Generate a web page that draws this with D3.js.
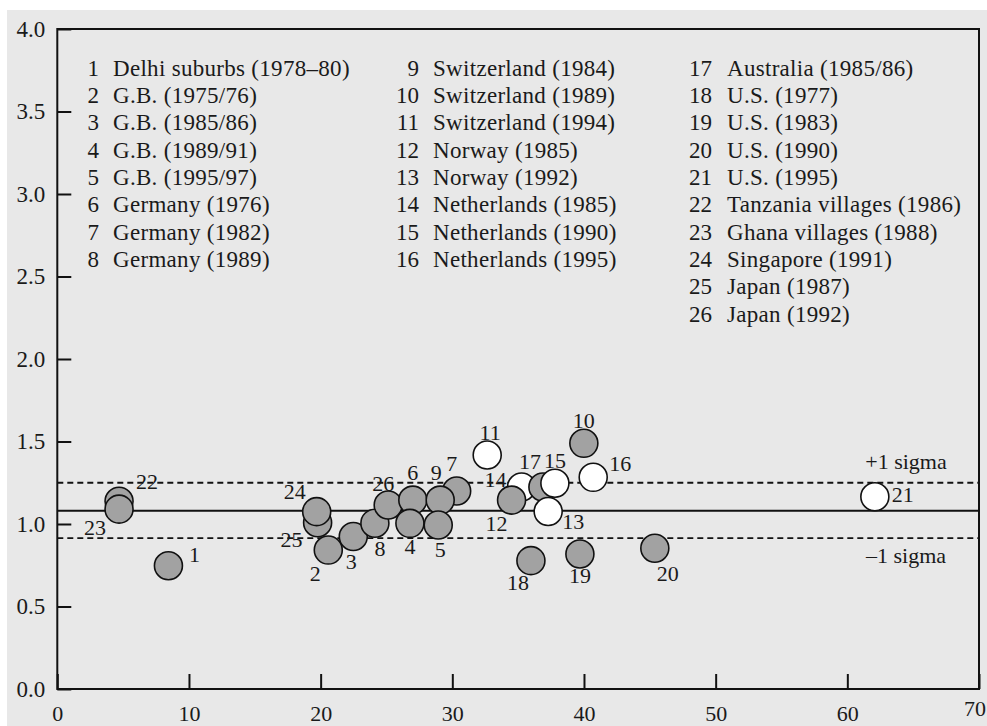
<!DOCTYPE html>
<html>
<head>
<meta charset="utf-8">
<script src="https://cdn.jsdelivr.net/npm/d3@7"></script>
<style>
  body { margin: 0; background: #fff; }
  text { font-family: "Liberation Serif", "DejaVu Serif", serif; fill: #1a1a1a; }
</style>
</head>
<body>
<div class="visContainer"></div>
<script>
// Data.
const ids = [1, 22, 23, 25, 24, 2, 3, 8, 26, 6, 4, 7, 9, 5, 14, 12, 17, 15, 13, 11, 10, 16, 18, 19, 20, 21];
const xValues = [8.44, 4.69, 4.69, 19.77, 19.70, 20.58, 22.48, 24.12, 25.13, 27.0, 26.78, 30.33, 29.08, 28.93,
                 35.26, 34.5, 36.88, 37.79, 37.28, 32.65, 39.99, 40.70, 35.97, 39.69, 45.38, 62.09];
const yValues = [0.747, 1.138, 1.09, 1.008, 1.075, 0.842, 0.924, 1.005, 1.115, 1.145, 1.004, 1.20, 1.145, 0.994,
                 1.224, 1.145, 1.224, 1.247, 1.076, 1.418, 1.489, 1.283, 0.778, 0.818, 0.853, 1.165];
const openIds = [11, 13, 14, 15, 16, 21];

const legendNames = [
    'Delhi suburbs (1978–80)', 'G.B. (1975/76)', 'G.B. (1985/86)', 'G.B. (1989/91)', 'G.B. (1995/97)',
    'Germany (1976)', 'Germany (1982)', 'Germany (1989)',
    'Switzerland (1984)', 'Switzerland (1989)', 'Switzerland (1994)', 'Norway (1985)', 'Norway (1992)',
    'Netherlands (1985)', 'Netherlands (1990)', 'Netherlands (1995)',
    'Australia (1985/86)', 'U.S. (1977)', 'U.S. (1983)', 'U.S. (1990)', 'U.S. (1995)',
    'Tanzania villages (1986)', 'Ghana villages (1988)', 'Singapore (1991)', 'Japan (1987)', 'Japan (1992)'
];
const legendColumnSizes = [8, 8, 10];

const meanValue = 1.08;
const plusSigma = 1.25;
const minusSigma = 0.915;

const xTicks = [0, 10, 20, 30, 40, 50, 60, 70];
const yTicks = [0, 0.5, 1, 1.5, 2, 2.5, 3, 3.5, 4];

// Label offsets from each circle centre (layout only).
const labelOffsets = {
    1: [26, -11], 2: [-13, 23], 3: [-2, 25], 4: [0, 23], 5: [2, 25], 6: [0, -28], 7: [-5, -28],
    8: [5, 25], 9: [-4, -28], 10: [0, -23], 11: [3, -23], 12: [-15, 23], 13: [25, 10], 14: [-26, -8],
    15: [0, -23], 16: [27, -14], 17: [-13, -26], 18: [-13, 22], 19: [0, 21], 20: [13, 25], 21: [28, -2],
    22: [28, -20], 23: [-24, 18], 24: [-22, -20], 25: [-26, 17], 26: [-5, -22]
};

const width = 987;
const height = 726;
const margin = {left: 57.3, right: 8, top: 29, bottom: 37};

const svg = d3.select('.visContainer')
              .append('svg')
              .attr('width', width)
              .attr('height', height);

// Grey page.
svg.append('rect')
   .attr('x', 7)
   .attr('y', 10)
   .attr('width', width - 7)
   .attr('height', height - 10)
   .attr('fill', '#e8e8e8');

const x = d3.scaleLinear().domain([0, 70]).range([margin.left, 979]);
const y = d3.scaleLinear().domain([0, 4]).range([689, margin.top]);

// Axes with inward ticks.
const yAxis = d3.axisLeft(y)
                .tickValues(yTicks)
                .tickFormat(d3.format('.1f'))
                .tickSize(-14)
                .tickPadding(12);
const xAxis = d3.axisBottom(x)
                .tickValues(xTicks)
                .tickFormat(d3.format('d'))
                .tickSize(-15)
                .tickPadding(16);

const gy = svg.append('g')
              .attr('transform', `translate(${x(0)},0)`)
              .call(yAxis);
const gx = svg.append('g')
              .attr('transform', `translate(0,${y(0)})`)
              .call(xAxis);

[gx, gy].forEach(g => {
    g.select('.domain').remove();
    g.selectAll('line').attr('stroke', '#111').attr('stroke-width', 2);
    g.selectAll('text').attr('fill', '#333')
     .attr('font-family', '"Liberation Serif", serif');
});
gy.selectAll('text').attr('font-size', '23px');
gx.selectAll('text').attr('font-size', '22px');
gx.selectAll('.tick')
  .filter(d => d === 70)
  .select('text')
  .attr('dy', '0.5em')
  .attr('dx', '-0.2em');

// Frame.
svg.append('rect')
   .attr('x', x(0))
   .attr('y', y(4))
   .attr('width', x(70) - x(0))
   .attr('height', y(0) - y(4))
   .attr('fill', 'none')
   .attr('stroke', '#111')
   .attr('stroke-width', 2);

// Mean and sigma lines.
svg.append('line')
   .attr('x1', x(0)).attr('x2', x(70))
   .attr('y1', y(meanValue)).attr('y2', y(meanValue))
   .attr('stroke', '#111')
   .attr('stroke-width', 2);

[plusSigma, minusSigma].forEach(v => {
    svg.append('line')
       .attr('x1', x(0)).attr('x2', x(70))
       .attr('y1', y(v)).attr('y2', y(v))
       .attr('stroke', '#111')
       .attr('stroke-width', 1.8)
       .attr('stroke-dasharray', '6,4');
});

svg.append('text')
   .attr('x', 906).attr('y', y(plusSigma) - 14)
   .attr('text-anchor', 'middle')
   .attr('font-size', '22px')
   .text('+1 sigma');
svg.append('text')
   .attr('x', 906).attr('y', y(minusSigma) + 25)
   .attr('text-anchor', 'middle')
   .attr('font-size', '22px')
   .text('–1 sigma');

// Points.
const points = ids.map((id, i) => ({id: id, x: xValues[i], y: yValues[i]}));

svg.append('g')
   .selectAll('circle')
   .data(points)
   .enter()
   .append('circle')
   .attr('cx', d => x(d.x))
   .attr('cy', d => y(d.y))
   .attr('r', 14)
   .attr('fill', d => openIds.includes(d.id) ? '#ffffff' : '#a2a2a2')
   .attr('stroke', '#111')
   .attr('stroke-width', 1.6);

svg.append('g')
   .selectAll('text')
   .data(points)
   .enter()
   .append('text')
   .attr('x', d => x(d.x) + labelOffsets[d.id][0])
   .attr('y', d => y(d.y) + labelOffsets[d.id][1])
   .attr('text-anchor', 'middle')
   .attr('dominant-baseline', 'central')
   .attr('font-size', '22px')
   .text(d => d.id);

// Legend.
const colNumX = [99, 419, 712];
const colTextX = [113, 433, 727];
const rowTop = 68.3;
const rowStep = 27.3;
let start = 0;
legendColumnSizes.forEach((size, c) => {
    const rows = legendNames.slice(start, start + size);
    rows.forEach((name, r) => {
        const yy = rowTop + r * rowStep;
        svg.append('text')
           .attr('x', colNumX[c]).attr('y', yy)
           .attr('text-anchor', 'end')
           .attr('dominant-baseline', 'central')
           .attr('font-size', '23px')
           .text(start + r + 1);
        svg.append('text')
           .attr('x', colTextX[c]).attr('y', yy)
           .attr('dominant-baseline', 'central')
           .attr('font-size', '23px')
           .attr('letter-spacing', '0.3px')
           .text(name);
    });
    start += size;
});
</script>
</body>
</html>
